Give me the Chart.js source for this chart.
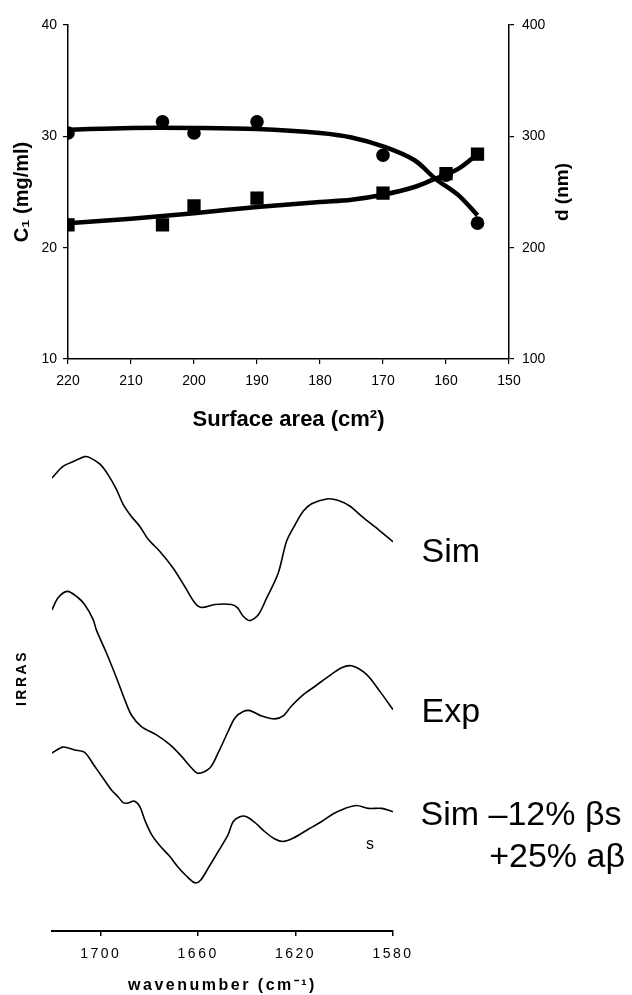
<!DOCTYPE html>
<html><head><meta charset="utf-8">
<script src="https://cdn.jsdelivr.net/npm/chart.js@4/dist/chart.umd.min.js"></script>
<style>
html,body{margin:0;padding:0;background:#fff;}
#wrap{position:relative;width:632px;height:995px;overflow:hidden;background:#fff;}
#c1{position:absolute;left:0;top:0;}
#c2{position:absolute;left:0;top:420px;}
</style></head><body>
<div id="wrap"><canvas id="c1" width="632" height="440"></canvas><canvas id="c2" width="632" height="575"></canvas></div>
<script>
// ---------- top chart data ----------
const surfaceArea = [220, 205, 200, 190, 170, 160, 155];
const c1Values = [30.3, 31.3, 30.3, 31.3, 28.3, 26.5, 22.2];
const dValues = [220.5, 220.5, 237.5, 244.5, 249, 266.5, 284];
const fitArea = [220, 210, 200, 190, 180, 175, 170, 165, 161.7, 158, 155];
const c1Fit = [30.6, 30.75, 30.75, 30.65, 30.3, 29.9, 29.1, 27.85, 26.2, 24.7, 22.9];
const dFit = [222, 226, 231, 236.5, 241, 243, 247.5, 254.5, 262, 271, 284];
const areaTicks = [220, 210, 200, 190, 180, 170, 160, 150];
const c1Ticks = [10, 20, 30, 40];
const dTicks = [100, 200, 300, 400];

// ---------- bottom chart data (IRRAS spectra, offset arbitrary units) ----------
const simWn = [1720, 1715.5, 1710.7, 1706.6, 1704.5, 1700.4, 1697.0, 1693.5, 1690.8, 1687.4, 1684.0, 1680.5, 1675.7, 1670.3, 1665.5, 1661.3, 1658.6, 1653.1, 1646.3, 1643.8, 1641.5, 1638.7, 1635.3, 1631.9, 1627.1, 1623.7, 1620.2, 1616.8, 1613.4, 1607.2, 1602.4, 1597.6, 1592.8, 1586.0, 1580];
const simI = [93.1, 95.5, 96.6, 97.5, 97.3, 96.0, 93.8, 90.7, 87.7, 85.2, 83.2, 80.5, 78.0, 74.6, 70.8, 67.4, 66.5, 67.1, 67.1, 66.4, 64.7, 63.8, 65.0, 68.4, 73.6, 80.1, 83.5, 86.3, 87.8, 88.8, 88.5, 87.3, 85.2, 82.5, 80.0];
const expWn = [1720, 1717.5, 1713.7, 1710.0, 1706.6, 1703.1, 1701.8, 1697.6, 1693.5, 1690.1, 1687.4, 1683.3, 1677.1, 1671.6, 1666.8, 1662.7, 1660.0, 1655.2, 1651.8, 1647.7, 1644.9, 1641.5, 1638.7, 1633.9, 1628.5, 1625.1, 1621.6, 1616.8, 1612.0, 1606.6, 1601.1, 1597.0, 1590.8, 1585.3, 1580];
const expI = [66.0, 68.5, 69.8, 68.8, 67.1, 64.0, 61.9, 57.1, 52.0, 47.5, 44.4, 42.0, 40.3, 38.3, 35.9, 33.5, 32.4, 33.5, 36.6, 41.0, 43.8, 45.1, 45.3, 44.2, 43.6, 44.2, 46.3, 48.6, 50.3, 52.3, 54.1, 54.5, 52.7, 49.2, 45.5];
const mixWn = [1720, 1715.5, 1710.7, 1706.6, 1702.4, 1699.0, 1695.6, 1692.9, 1690.8, 1688.8, 1686.3, 1684.0, 1681.9, 1679.1, 1675.7, 1671.6, 1668.2, 1664.8, 1661.3, 1658.9, 1655.9, 1651.8, 1647.7, 1645.6, 1642.9, 1640.1, 1636.7, 1632.6, 1628.5, 1625.1, 1620.9, 1614.8, 1609.3, 1604.5, 1599.7, 1594.9, 1590.1, 1584.6, 1580];
const mixI = [36.6, 37.8, 37.2, 36.7, 33.8, 31.4, 29.0, 27.6, 26.4, 26.3, 26.7, 25.6, 22.8, 19.8, 17.5, 15.3, 13.1, 11.3, 9.9, 10.5, 12.9, 16.3, 19.8, 22.5, 23.5, 23.5, 22.3, 20.4, 18.9, 18.4, 19.1, 20.9, 22.5, 24.1, 25.2, 25.8, 25.2, 25.2, 24.5];
const wnTicks = [1700, 1660, 1620, 1580];
const spectrumLabels = ['Sim', 'Exp', 'Sim \u201312% \u03B2s', '+25% a\u03B2', 's'];

// ---------- common ----------
const FONT = '"Liberation Sans", Arial, Helvetica, sans-serif';
Chart.defaults.font.family = FONT;
Chart.defaults.color = '#000';
const pts = (xs, ys) => xs.map((x, i) => ({ x: x, y: ys[i] }));
const plain = v => String(v);

const rightTitle = {
  id: 'rightTitle',
  afterDraw(chart) {
    const ctx = chart.ctx, a = chart.chartArea;
    ctx.save();
    ctx.translate(a.right + 54, (a.top + a.bottom) / 2);
    ctx.rotate(-Math.PI / 2);
    ctx.font = 'bold 19px ' + FONT;
    ctx.fillStyle = '#000';
    ctx.textAlign = 'center';
    ctx.textBaseline = 'middle';
    ctx.fillText('d (nm)', 0, 0);
    ctx.restore();
  }
};

new Chart(document.getElementById('c1'), {
  type: 'scatter',
  data: {
    datasets: [
      { label: 'C1 fit', data: pts(fitArea, c1Fit), yAxisID: 'y', showLine: true, borderColor: '#000', borderWidth: 4.5, pointRadius: 0, tension: 0.35, fill: false },
      { label: 'd fit', data: pts(fitArea, dFit), yAxisID: 'y2', showLine: true, borderColor: '#000', borderWidth: 4.5, pointRadius: 0, tension: 0.35, fill: false },
      { label: 'C1', data: pts(surfaceArea, c1Values), yAxisID: 'y', showLine: false, pointStyle: 'circle', pointRadius: 6.8, backgroundColor: '#000', borderColor: '#000', borderWidth: 0 },
      { label: 'd', data: pts(surfaceArea, dValues), yAxisID: 'y2', showLine: false, pointStyle: 'rect', pointRadius: 9.4, backgroundColor: '#000', borderColor: '#000', borderWidth: 0 }
    ]
  },
  options: {
    responsive: false, animation: false, devicePixelRatio: 1,
    layout: { padding: { top: 25, left: 0, right: 0, bottom: 0 } },
    plugins: { legend: { display: false }, tooltip: { enabled: false } },
    scales: {
      x: {
        type: 'linear', position: 'bottom', min: 150, max: 220, reverse: true,
        afterBuildTicks: s => { s.ticks = areaTicks.map(v => ({ value: v })); },
        afterFit: s => { s.height = 81; },
        ticks: { font: { size: 14 }, padding: 9, color: '#000', maxRotation: 0, autoSkip: false, callback: plain },
        grid: { display: true, drawOnChartArea: false, tickLength: 5, color: '#000', lineWidth: 1.2 },
        border: { display: true, color: '#000', width: 1.5 },
        title: { display: true, text: 'Surface area (cm\u00B2)', font: { size: 22, weight: 'bold' }, padding: { top: 0, bottom: 7 }, color: '#000' }
      },
      y: {
        type: 'linear', position: 'left', min: 10, max: 40,
        afterBuildTicks: s => { s.ticks = c1Ticks.map(v => ({ value: v })); },
        afterFit: s => { s.width = 68; },
        ticks: { font: { size: 14 }, padding: 6, color: '#000', callback: plain },
        grid: { display: true, drawOnChartArea: false, tickLength: 5, color: '#000', lineWidth: 1.2 },
        border: { display: true, color: '#000', width: 1.5 },
        title: { display: true, text: 'C\u2081 (mg/ml)', font: { size: 20, weight: 'bold' }, padding: { top: 10, bottom: 0 }, color: '#000' }
      },
      y2: {
        type: 'linear', position: 'right', min: 100, max: 400,
        afterBuildTicks: s => { s.ticks = dTicks.map(v => ({ value: v })); },
        afterFit: s => { s.width = 123; },
        ticks: { font: { size: 14 }, padding: 8, color: '#000', callback: plain },
        grid: { display: true, drawOnChartArea: false, tickLength: 5, color: '#000', lineWidth: 1.2 },
        border: { display: true, color: '#000', width: 1.5 },
        title: { display: false }
      }
    }
  },
  plugins: [rightTitle]
});

const spectraDeco = {
  id: 'spectraDeco',
  beforeDraw(chart) { chart.ctx.letterSpacing = '2.5px'; },
  afterDraw(chart) {
    const ctx = chart.ctx, a = chart.chartArea;
    ctx.letterSpacing = '0px';
    ctx.save();
    ctx.fillStyle = '#000';
    ctx.textBaseline = 'alphabetic';
    ctx.font = '34px ' + FONT;
    ctx.textAlign = 'left';
    ctx.fillText(spectrumLabels[0], a.right + 28.5, a.top + 136.7);
    ctx.fillText(spectrumLabels[1], a.right + 28.5, a.top + 296.7);
    ctx.fillText(spectrumLabels[2], a.right + 27.5, a.top + 400);
    ctx.textAlign = 'right';
    ctx.fillText(spectrumLabels[3], a.right + 232, a.top + 441.7);
    ctx.font = '16px ' + FONT;
    ctx.textAlign = 'center';
    ctx.fillText(spectrumLabels[4], a.right - 23, a.top + 424.3);
    ctx.restore();
  }
};

const specDs = (lab, xs, ys) => ({ label: lab, data: pts(xs, ys), showLine: true, borderColor: '#000', borderWidth: 1.6, pointRadius: 0, tension: 0.3, fill: false });

new Chart(document.getElementById('c2'), {
  type: 'scatter',
  data: { datasets: [specDs('Sim', simWn, simI), specDs('Exp', expWn, expI), specDs('Sim -12% bs +25% ab', mixWn, mixI)] },
  options: {
    responsive: false, animation: false, devicePixelRatio: 1,
    layout: { padding: { top: 5, left: 0, right: 239, bottom: 0 } },
    plugins: { legend: { display: false }, tooltip: { enabled: false } },
    scales: {
      x: {
        type: 'linear', position: 'bottom', min: 1580, max: 1720, reverse: true,
        afterBuildTicks: s => { s.ticks = wnTicks.map(v => ({ value: v })); },
        afterFit: s => { s.height = 64; },
        ticks: { font: { size: 14 }, padding: 10, color: '#000', maxRotation: 0, autoSkip: false, callback: plain },
        grid: { display: true, drawOnChartArea: false, tickLength: 5, color: '#000', lineWidth: 1.5 },
        border: { display: true, color: '#000', width: 2 },
        title: { display: true, text: 'wavenumber (cm\u207B\u00B9)', font: { size: 16, weight: 'bold' }, padding: { top: 0, bottom: 0 }, color: '#000' }
      },
      y: {
        type: 'linear', position: 'left', min: 0, max: 104, display: true,
        afterFit: s => { s.width = 52; },
        ticks: { display: false },
        grid: { display: false },
        border: { display: false },
        title: { display: true, text: 'IRRAS', font: { size: 14, weight: 'bold' }, padding: { top: 14, bottom: 0 }, color: '#000' }
      }
    }
  },
  plugins: [spectraDeco]
});
</script>
</body></html>
